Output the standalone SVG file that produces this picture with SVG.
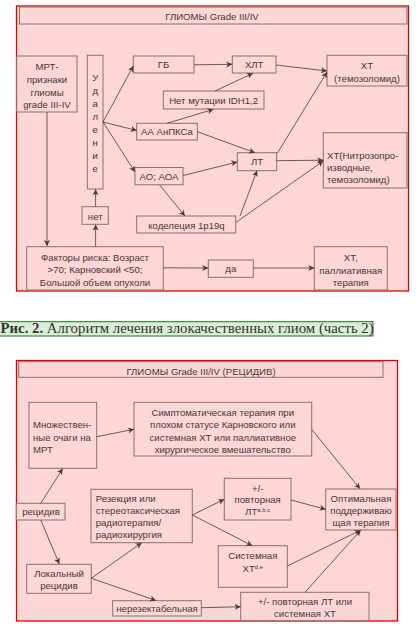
<svg xmlns="http://www.w3.org/2000/svg" width="419" height="643" viewBox="0 0 419 643">
<defs>
<marker id="ah" markerUnits="userSpaceOnUse" markerWidth="7" markerHeight="7" refX="6" refY="3" orient="auto">
<path d="M0,0 L6,3 L0,6 L1.6,3 z" fill="#4a3a3a"/>
</marker>
<style>
.frame{fill:#fdd6d6;stroke:#e00000;stroke-width:1.3}
.b{fill:#fdd6d6;stroke:#8e6e6e;stroke-width:1}
.t{font-family:"Liberation Sans",Arial,sans-serif;font-size:9.6px;fill:#463636}
.c{text-anchor:middle}
.sup{font-size:6px}
.ln{stroke:#4a3a3a;stroke-width:0.8;fill:none;marker-end:url(#ah)}
.cap{font-family:"Liberation Serif","Times New Roman",serif;font-size:14.8px;fill:#333}
</style>
</defs>
<rect width="419" height="643" fill="#ffffff"/>

<!-- TOP DIAGRAM -->
<rect class="frame" x="16.5" y="6" width="392" height="285"/>
<g id="title1"><rect class="b" x="19.5" y="7" width="387.5" height="17"/><text class="t c" x="212" y="19.5">ГЛИОМЫ Grade III/IV</text></g>
<g id="mrt"><rect class="b" x="16.7" y="56" width="60.3" height="56"/>
<text class="t c" x="47" y="70">МРТ-</text><text class="t c" x="47" y="82.8">признаки</text><text class="t c" x="47" y="95.5">глиомы</text><text class="t c" x="47" y="108.3">grade III-IV</text></g>
<g id="udalenie"><rect class="b" x="87.3" y="55.3" width="15.7" height="133.7"/>
<text class="t c" x="95.2" y="81.4">У</text><text class="t c" x="95.2" y="94">д</text><text class="t c" x="95.2" y="107">а</text><text class="t c" x="95.2" y="120">л</text><text class="t c" x="95.2" y="133">е</text><text class="t c" x="95.2" y="146">н</text><text class="t c" x="95.2" y="159">и</text><text class="t c" x="95.2" y="172">е</text></g>
<g id="gb"><rect class="b" x="133.3" y="56" width="60.7" height="17"/><text class="t c" x="163.6" y="68.4">ГБ</text></g>
<g id="hlt"><rect class="b" x="232.3" y="56" width="43.7" height="17"/><text class="t c" x="254.2" y="68.4">ХЛТ</text></g>
<g id="xt_tmz"><rect class="b" x="327" y="55.3" width="80" height="30.7"/><text class="t c" x="367" y="69.4">ХТ</text><text class="t c" x="367" y="82.4">(темозоломид)</text></g>
<g id="idh"><rect class="b" x="163.3" y="91" width="100.7" height="18"/><text class="t c" x="213.6" y="104">Нет мутации IDH1,2</text></g>
<g id="aa"><rect class="b" x="136.7" y="123.3" width="60.6" height="16.7"/><text class="t c" x="167" y="135">АА АнПКСа</text></g>
<g id="xt_nitro"><rect class="b" x="323.3" y="132.7" width="83.7" height="55.3"/><text class="t" x="327" y="159">ХТ(Нитрозопро-</text><text class="t" x="327" y="171.2">изводные,</text><text class="t" x="327" y="183.4">темозоломид)</text></g>
<g id="lt"><rect class="b" x="237.3" y="152.7" width="39.4" height="18"/><text class="t c" x="257" y="165.4">ЛТ</text></g>
<g id="ao"><rect class="b" x="135" y="167.5" width="48" height="17.3"/><text class="t c" x="159" y="179.8">АО; АОА</text></g>
<g id="codel"><rect class="b" x="136.7" y="216" width="99" height="17"/><text class="t c" x="186.5" y="229">коделеция 1p19q</text></g>
<g id="net"><rect class="b" x="82" y="206.7" width="26.3" height="17.6"/><text class="t c" x="95.2" y="219.6">нет</text></g>
<g id="risk"><rect class="b" x="26.7" y="246.7" width="136.6" height="43.3"/><text class="t c" x="95" y="261">Факторы риска: Возраст</text><text class="t c" x="95" y="273.3">&gt;70; Карновский &lt;50;</text><text class="t c" x="95" y="285.6">Большой объем опухоли</text></g>
<g id="da"><rect class="b" x="208.3" y="260" width="45" height="17.3"/><text class="t c" x="230.8" y="272">да</text></g>
<g id="pall"><rect class="b" x="314.3" y="246.7" width="73" height="43.3"/><text class="t c" x="350.8" y="261.4">ХТ,</text><text class="t c" x="350.8" y="273.6">паллиативная</text><text class="t c" x="350.8" y="286">терапия</text></g>

<g id="connectors1">
<line class="ln" x1="47" y1="112" x2="47" y2="246"/>
<line class="ln" x1="95.6" y1="246.7" x2="95.6" y2="224.6"/>
<line class="ln" x1="95.6" y1="206.7" x2="95.6" y2="189.3"/>
<line class="ln" x1="103" y1="122" x2="133.3" y2="66"/>
<line class="ln" x1="103" y1="122" x2="136.7" y2="130.5"/>
<line class="ln" x1="103" y1="122" x2="135" y2="172"/>
<line class="ln" x1="194" y1="64.8" x2="232.3" y2="64.3"/>
<line class="ln" x1="215" y1="91" x2="253" y2="73.3"/>
<line class="ln" x1="167" y1="123.3" x2="213.5" y2="109.3"/>
<line class="ln" x1="197.3" y1="131.7" x2="255" y2="152.7"/>
<line class="ln" x1="276" y1="65" x2="327" y2="71"/>
<line class="ln" x1="277.5" y1="153" x2="327" y2="72"/>
<line class="ln" x1="276.7" y1="160.7" x2="323.3" y2="160.2"/>
<line class="ln" x1="183" y1="175.5" x2="237.3" y2="162"/>
<line class="ln" x1="159.5" y1="184.8" x2="185" y2="216"/>
<line class="ln" x1="240" y1="216" x2="257" y2="170.7"/>
<line class="ln" x1="235.7" y1="222.5" x2="323.3" y2="161"/>
<line class="ln" x1="163.3" y1="267.8" x2="208.3" y2="268"/>
<line class="ln" x1="253.3" y1="268" x2="314.3" y2="268"/>
</g>

<!-- CAPTION -->
<g id="caption"><rect x="-1" y="321.7" width="374" height="14.3" fill="#dcecda" stroke="#1a7a1a" stroke-width="1"/>
<text class="cap" x="0.5" y="333.2"><tspan font-weight="bold">Рис. 2.</tspan> Алгоритм лечения злокачественных глиом (часть 2)</text></g>

<!-- BOTTOM DIAGRAM -->
<rect class="frame" x="16.5" y="360.5" width="381" height="260.5"/>
<g id="title2"><rect class="b" x="18.7" y="361.7" width="364.3" height="15.6"/><text class="t c" x="201" y="375">ГЛИОМЫ Grade III/IV (РЕЦИДИВ)</text></g>
<g id="mult"><rect class="b" x="29" y="402.3" width="67.7" height="66"/><text class="t" x="33" y="428.2">Множествен-</text><text class="t" x="33" y="440.5">ные очаги на</text><text class="t" x="33" y="452.8">МРТ</text></g>
<g id="sympt"><rect class="b" x="134" y="402.3" width="177.7" height="53.7"/>
<text class="t c" x="222.8" y="416">Симптоматическая терапия при</text><text class="t c" x="222.8" y="428.3">плохом статусе Карновского или</text><text class="t c" x="222.8" y="440.6">системная ХТ или паллиативное</text><text class="t c" x="222.8" y="452.9">хирургическое вмешательство</text></g>
<g id="recid"><rect class="b" x="16.3" y="503.3" width="48.7" height="16.7"/><text class="t c" x="41" y="514.8">рецидив</text></g>
<g id="resect"><rect class="b" x="91" y="489.3" width="101.3" height="53.4"/><text class="t" x="95.7" y="502.3">Резекция или</text><text class="t" x="95.7" y="514.3">стереотаксическая</text><text class="t" x="95.7" y="526.3">радиотерапия/</text><text class="t" x="95.7" y="538.3">радиохирургия</text></g>
<g id="relt"><rect class="b" x="224.3" y="478.3" width="66.7" height="41.7"/><text class="t c" x="257.7" y="491.8">+/-</text><text class="t c" x="257.7" y="503.3">повторная</text><text class="t c" x="257.7" y="514.6">ЛТ<tspan class="sup" dy="-3">a,b,c</tspan></text></g>
<g id="optim"><rect class="b" x="325.7" y="489" width="70.3" height="41"/><text class="t c" x="361" y="501.6">Оптимальная</text><text class="t c" x="361" y="514">поддерживаю</text><text class="t c" x="361" y="526.2">щая терапия</text></g>
<g id="sysxt"><rect class="b" x="218.3" y="545.7" width="69" height="41.6"/><text class="t c" x="252.8" y="559">Системная</text><text class="t c" x="252.8" y="571.6">ХТ<tspan class="sup" dy="-3">d,e</tspan></text></g>
<g id="local"><rect class="b" x="26.7" y="564.3" width="64.6" height="29"/><text class="t c" x="59" y="577.4">Локальный</text><text class="t c" x="59" y="589.4">рецидив</text></g>
<g id="nonres"><rect class="b" x="112.7" y="600.7" width="88.6" height="15.3"/><text class="t c" x="157" y="612.4">нерезектабельная</text></g>
<g id="reltxt"><rect class="b" x="240.7" y="592.3" width="128.3" height="28.4"/><text class="t c" x="305" y="605">+/- повторная ЛТ или</text><text class="t c" x="305" y="617.2">системная ХТ</text></g>

<g id="connectors2">
<line class="ln" x1="96.7" y1="436.7" x2="134" y2="429.3"/>
<line class="ln" x1="40.7" y1="503.3" x2="62.7" y2="468.6"/>
<line class="ln" x1="40.7" y1="520" x2="59.3" y2="564"/>
<line class="ln" x1="311.7" y1="429.3" x2="360" y2="488.8"/>
<line class="ln" x1="192.3" y1="515" x2="224.3" y2="499.3"/>
<line class="ln" x1="192.3" y1="515" x2="252.3" y2="545.7"/>
<line class="ln" x1="291" y1="500" x2="325.7" y2="509.3"/>
<line class="ln" x1="287.3" y1="566" x2="360.7" y2="530.2"/>
<line class="ln" x1="305" y1="592.3" x2="360.7" y2="530.2"/>
<line class="ln" x1="91.3" y1="578.3" x2="141.7" y2="542.8"/>
<line class="ln" x1="91.3" y1="578.3" x2="156" y2="600.5"/>
<line class="ln" x1="201.3" y1="607.7" x2="240.7" y2="606.8"/>
</g>
</svg>
